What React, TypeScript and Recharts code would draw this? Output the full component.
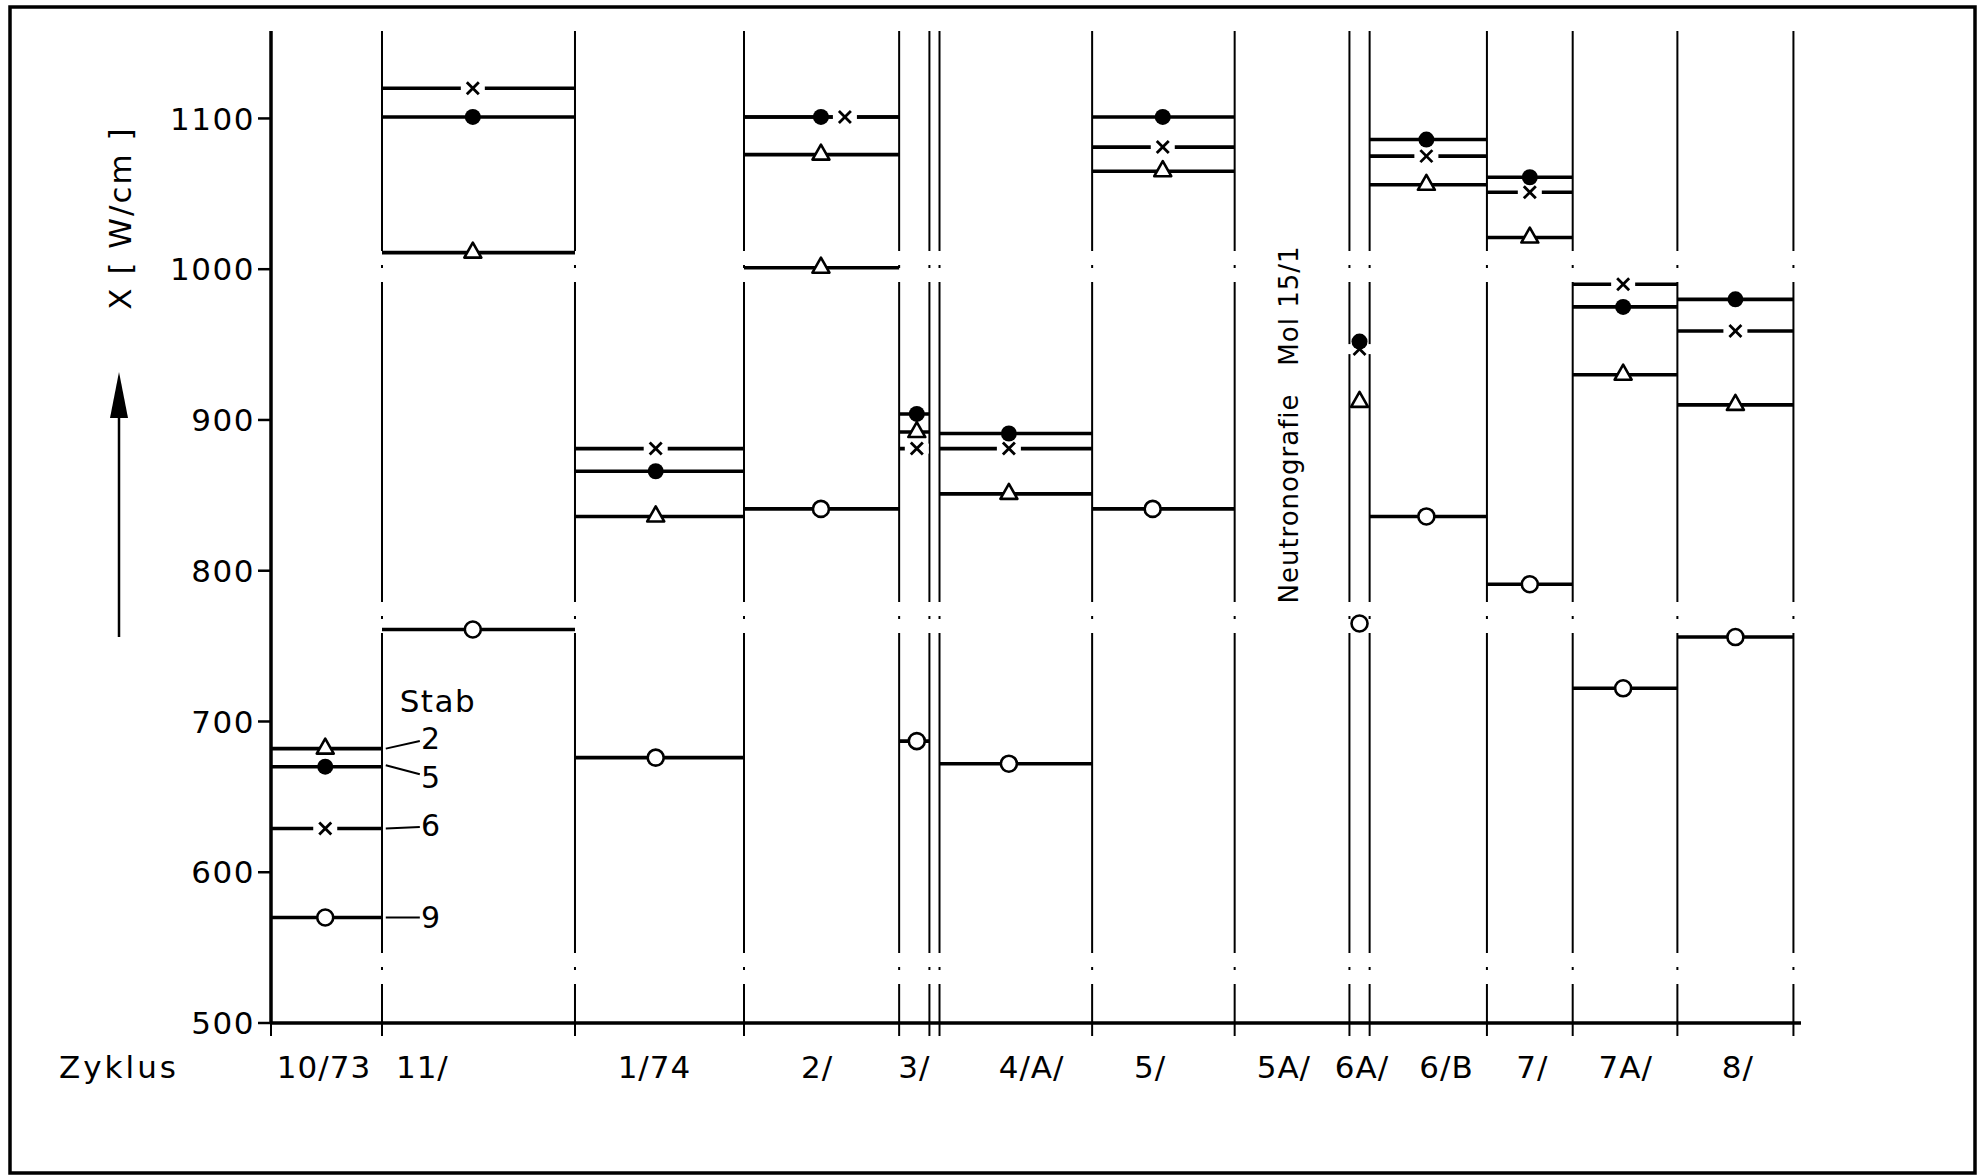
import React from 'react';
import { ComposedChart, Line, Scatter, XAxis, YAxis, ReferenceLine, ReferenceDot } from 'recharts';

// ---- data ----
const cycles = ['10/73', '11/', '1/74', '2/', '3/', '4/A/', '5/', '5A/', '6A/', '6/B', '7/', '7A/', '8/'];
const cycleStart = [0, 88, 241, 375, 498, 530, 651, 764, 855, 871, 964, 1032, 1115];
const cycleEnd = [88, 241, 375, 498, 522, 651, 764, 855, 871, 964, 1032, 1115, 1207];
const hasLine = [true, true, true, true, true, true, true, false, false, true, true, true, true];
const boundaries = [0, 88, 241, 375, 498, 522, 530, 651, 764, 855, 871, 964, 1032, 1115, 1207];
const labelPos = [42, 120, 304, 433, 510, 603, 697, 803, 865, 932, 1000, 1074, 1163];
const yTicks = [500, 600, 700, 800, 900, 1000, 1100];

// marker positions (x along cycle axis) per series
const x2 = [43, 160, 305, 436, 512, 585, 707, null, 863, 916, 998, 1072, 1161];
const x5 = [43, 160, 305, 436, 512, 585, 707, null, 863, 916, 998, 1072, 1161];
const x6 = [43, 160, 305, 455, 512, 585, 707, null, 863, 916, 998, 1072, 1161];
const x9 = [43, 160, 305, 436, 512, 585, 699, null, 863, 916, 998, 1072, 1161];

// Stab values, X [W/cm]
const stab2 = [682, 1011, 836, 1076, 892, 851, 1065, null, 912, 1056, 1021, 930, 910];
const stab2b = [null, null, null, 1001, null, null, null, null, null, null, null, null, null];
const stab5 = [670, 1101, 866, 1101, 904, 891, 1101, null, 952, 1086, 1061, 975, 980];
const stab6 = [629, 1120, 881, 1101, 881, 881, 1081, null, 947, 1075, 1051, 990, 959];
const stab9 = [570, 761, 676, 841, 687, 672, 841, null, 765, 836, 791, 722, 756];

// legend annotation (Stab numbers next to the 10/73 segments)
const legendNames = ['2', '5', '6', '9'];
const legendFrom = [682, 671, 629, 570];
const legendTo = [687, 665, 630, 570];
const legendLabelY = [689, 663, 631, 570];
const legendX = [91, 118, 119];
const stabTitle = { x: 102, y: 714 };
const noteText = 'Neutronografie   Mol 15/1';
const notePos = { x: 807, y: 897 };

const FONT = '"DejaVu Sans", "Liberation Sans", sans-serif';

function segs(values: (number | null)[]) {
  const out: { x: number; y: number | null }[] = [];
  values.forEach((v, i) => {
    if (v == null || !hasLine[i]) return;
    out.push({ x: cycleStart[i], y: v });
    out.push({ x: cycleEnd[i], y: v });
    out.push({ x: cycleEnd[i], y: null });
  });
  return out;
}
function pts(values: (number | null)[], xs: (number | null)[]) {
  const out: { x: number; y: number }[] = [];
  values.forEach((v, i) => {
    const x = xs[i];
    if (v == null || x == null) return;
    out.push({ x, y: v });
  });
  return out;
}

const Tri = (p: any) => (
  <polygon
    points={`${p.cx},${p.cy - 10} ${p.cx + 8.5},${p.cy + 5} ${p.cx - 8.5},${p.cy + 5}`}
    fill="#fff" stroke="#000" strokeWidth={2.6} strokeLinejoin="round"
  />
);
const Dot = (p: any) => <circle cx={p.cx} cy={p.cy} r={8} fill="#000" />;
const Ring = (p: any) => <circle cx={p.cx} cy={p.cy} r={8} fill="#fff" stroke="#000" strokeWidth={2.6} />;
const Cross = (p: any) => (
  <g>
    <rect x={p.cx - 12} y={p.cy - 5} width={24} height={10} fill="#fff" />
    <line x1={p.cx - 6} y1={p.cy - 6} x2={p.cx + 6} y2={p.cy + 6} stroke="#000" strokeWidth={2.8} />
    <line x1={p.cx - 6} y1={p.cy + 6} x2={p.cx + 6} y2={p.cy - 6} stroke="#000" strokeWidth={2.8} />
  </g>
);

const BoundaryLine = (p: any) => {
  const top = Math.min(p.y1, p.y2);
  const bot = Math.max(p.y1, p.y2);
  return (
    <g>
      <line x1={p.x1} y1={top} x2={p.x1} y2={bot} stroke="#000" strokeWidth={2}
        strokeDasharray="320 14 3 14" strokeDashoffset={100} />
      <line x1={p.x1} y1={bot} x2={p.x1} y2={bot + 13} stroke="#000" strokeWidth={2} />
    </g>
  );
};

const XTick = (p: any) => {
  const i = labelPos.indexOf(p.payload.value);
  return (
    <text x={p.x} y={p.y + 36} dy="0.36em" textAnchor="middle" fontSize={31}
      fontFamily={FONT} fill="#000" letterSpacing={1}>
      {cycles[i]}
    </text>
  );
};
const YTick = (p: any) => (
  <text x={p.x} y={p.y} dy="0.36em" textAnchor="end" fontSize={31}
    fontFamily={FONT} fill="#000" letterSpacing={1.5}>
    {p.payload.value}
  </text>
);

export default function App() {
  const series = [
    { key: 's2', vals: stab2, xs: x2, shape: Tri },
    { key: 's2b', vals: stab2b, xs: x2, shape: Tri },
    { key: 's5', vals: stab5, xs: x5, shape: Dot },
    { key: 's9', vals: stab9, xs: x9, shape: Ring },
  ];
  return (
    <div style={{ position: 'absolute', left: 0, top: 0, width: 1978, height: 1176, background: '#fff' }}>
      <ComposedChart width={1978} height={1176} margin={{ top: 31, right: 177, left: 121, bottom: 93 }}>
        <XAxis dataKey="x" type="number" domain={[0, 1213]} allowDataOverflow ticks={labelPos}
          interval={0} tickLine={false} tickSize={8} tickMargin={0} height={60}
          axisLine={{ stroke: '#000', strokeWidth: 3.5 }} tick={<XTick />} />
        <YAxis dataKey="y" type="number" domain={[500, 1158]} allowDataOverflow ticks={yTicks}
          interval={0} width={150} tickSize={13} tickMargin={3}
          axisLine={{ stroke: '#000', strokeWidth: 3.5 }} tickLine={{ stroke: '#000', strokeWidth: 2.5 }}
          tick={<YTick />} />
        {boundaries.map((b, i) => (
          <ReferenceLine key={'b' + i} x={b} stroke="#000" shape={BoundaryLine} ifOverflow="visible" />
        ))}
        {[stab2, stab2b, stab5, stab6, stab9].map((vals, i) => (
          <Line key={'l' + i} data={segs(vals)} dataKey="y" stroke="#000" strokeWidth={3.6}
            dot={false} activeDot={false} connectNulls={false} isAnimationActive={false}
            type="linear" legendType="none" />
        ))}
        <Scatter data={pts(stab6, x6)} dataKey="y" shape={Cross} isAnimationActive={false} />
        {series.map((s) => (
          <Scatter key={s.key} data={pts(s.vals, s.xs)} dataKey="y" shape={s.shape} isAnimationActive={false} />
        ))}
        {legendNames.map((n, i) => (
          <ReferenceLine key={'lg' + i} segment={[{ x: legendX[0], y: legendFrom[i] }, { x: legendX[1], y: legendTo[i] }]}
            stroke="#000" strokeWidth={2} ifOverflow="visible" />
        ))}
        {legendNames.map((n, i) => (
          <ReferenceDot key={'ln' + i} x={legendX[2]} y={legendLabelY[i]} r={0} ifOverflow="visible"
            shape={(p: any) => (
              <text x={p.cx} y={p.cy} dy="0.36em" textAnchor="start" fontSize={30} fontFamily={FONT} fill="#000">{n}</text>
            )} />
        ))}
        <ReferenceDot x={stabTitle.x} y={stabTitle.y} r={0} ifOverflow="visible"
          shape={(p: any) => (
            <text x={p.cx} y={p.cy} dy="0.36em" textAnchor="start" fontSize={31} fontFamily={FONT} fill="#000" letterSpacing={1.5}>Stab</text>
          )} />
        <ReferenceDot x={notePos.x} y={notePos.y} r={0} ifOverflow="visible"
          shape={(p: any) => (
            <text x={p.cx} y={p.cy} dy="0.36em" textAnchor="middle" fontSize={26} fontFamily={FONT} fill="#000"
              letterSpacing={1} transform={`rotate(-90 ${p.cx} ${p.cy})`} style={{ whiteSpace: 'pre' }}>{noteText}</text>
          )} />
      </ComposedChart>
      <svg width={1978} height={1176} style={{ position: 'absolute', left: 0, top: 0, pointerEvents: 'none' }}>
        <rect x={10} y={7} width={1965} height={1166} fill="none" stroke="#000" strokeWidth={3.5} />
        <line x1={119} y1={637} x2={119} y2={410} stroke="#000" strokeWidth={2.5} />
        <polygon points="119,372 110,418 128,418" fill="#000" />
        <text x={120} y={218} dy="0.36em" textAnchor="middle" fontSize={31} fontFamily={FONT} fill="#000"
          letterSpacing={2} transform="rotate(-90 120 218)" style={{ whiteSpace: 'pre' }}>X [ W/cm ]</text>
        <text x={59} y={1067} dy="0.36em" textAnchor="start" fontSize={31} fontFamily={FONT} fill="#000"
          letterSpacing={3}>Zyklus</text>
      </svg>
    </div>
  );
}
